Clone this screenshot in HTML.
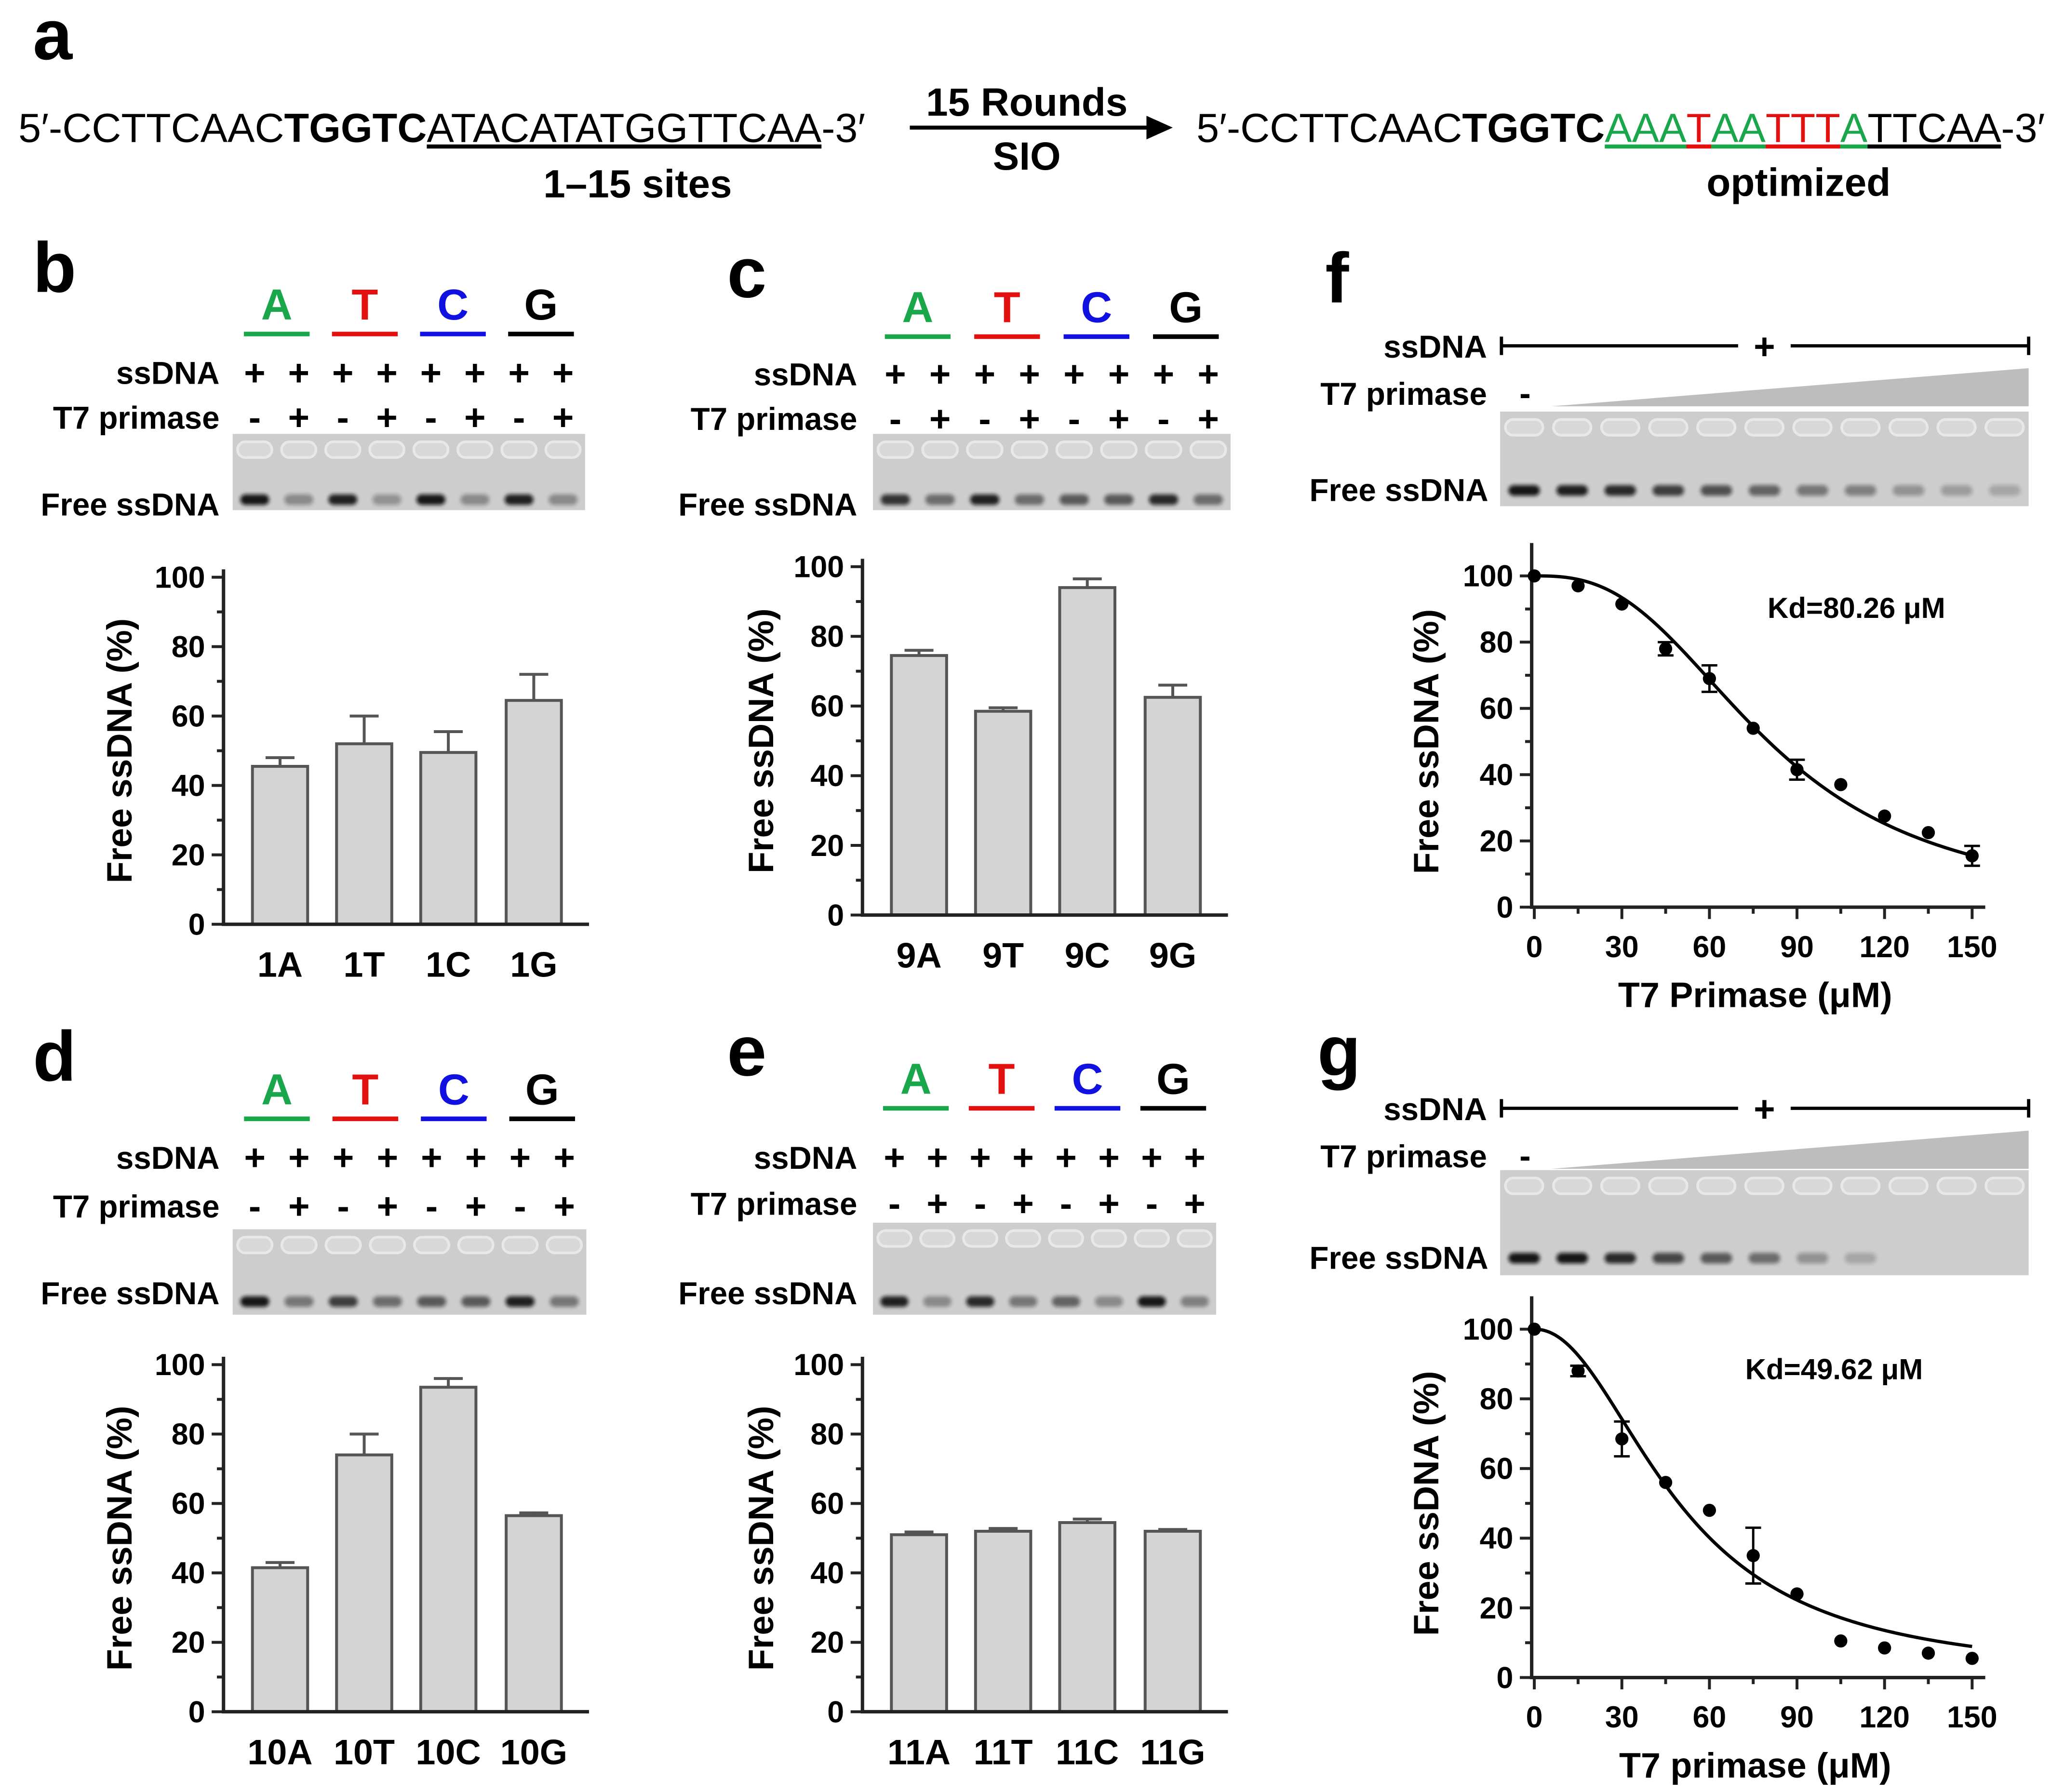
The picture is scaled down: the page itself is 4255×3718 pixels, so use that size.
<!DOCTYPE html>
<html><head><meta charset="utf-8"><style>
html,body{margin:0;padding:0;background:#fff}
svg{display:block}
text{font-family:"Liberation Sans",Arial,sans-serif}
</style></head><body>
<svg id="fig" xmlns="http://www.w3.org/2000/svg" width="4255" height="3718" viewBox="0 0 1560 1363">
<defs>
<filter id="blur2" x="-20%" y="-50%" width="140%" height="200%"><feGaussianBlur stdDeviation="1.5"/></filter>
</defs>
<g>
<text x="25" y="45" font-size="54" font-weight="bold">a</text>
<text x="14" y="108" font-size="31">5′-CCTTCAAC<tspan font-weight="bold">TGGTC</tspan><tspan text-decoration="underline">ATACATATGGTTCAA</tspan>-3′</text>
<text x="485" y="150" font-size="30" font-weight="bold" text-anchor="middle">1–15 sites</text>
<text x="781" y="88" font-size="30" font-weight="bold" text-anchor="middle">15 Rounds</text>
<line x1="692" y1="97" x2="875" y2="97" stroke="#000" stroke-width="3"/>
<polygon points="892,97 872,88 872,106" fill="#000"/>
<text x="781" y="129" font-size="30" font-weight="bold" text-anchor="middle">SIO</text>
<text x="910" y="108" font-size="31">5′-CCTTCAAC<tspan font-weight="bold">TGGTC</tspan><tspan fill="#1aa64a" text-decoration="underline">AAA</tspan><tspan fill="#e31010" text-decoration="underline">T</tspan><tspan fill="#1aa64a" text-decoration="underline">AA</tspan><tspan fill="#e31010" text-decoration="underline">TTT</tspan><tspan fill="#1aa64a" text-decoration="underline">A</tspan><tspan text-decoration="underline">TTCAA</tspan>-3′</text>
<text x="1368" y="149" font-size="30" font-weight="bold" text-anchor="middle">optimized</text>
</g>
<g id="dyn"></g>
</svg>
<script>
// ---- data ----
const bCats=['1A','1T','1C','1G'];
const bVals=[45.5,52,49.5,64.5];
const bErrs=[2.5,8,6,7.5];
const cCats=['9A','9T','9C','9G'];
const cVals=[74.5,58.5,94,62.5];
const cErrs=[1.5,1,2.5,3.5];
const dCats=['10A','10T','10C','10G'];
const dVals=[41.5,74,93.5,56.5];
const dErrs=[1.5,6,2.5,0.8];
const eCats=['11A','11T','11C','11G'];
const eVals=[51,52,54.5,52];
const eErrs=[0.8,0.8,1,0.5];
const yTicks=[0,20,40,60,80,100];
const fX=[0,15,30,45,60,75,90,105,120,135,150];
const fY=[100,97,91.5,78,69,54,41.5,37,27.5,22.5,15.5];
const fErr=[0,0,0,2,4,0,3,0,0,0,3];
const fKd=80.26, fHill=2.7;
const gX=[0,15,30,45,60,75,90,105,120,135,150];
const gY=[100,88,68.5,56,48,35,24,10.5,8.5,7,5.5];
const gErr=[0,1.5,5,0,0,8,0,0,0,0,0];
const gKd=49.62, gHill=2.1;
const xTicks=[0,30,60,90,120,150];
const bases=['A','T','C','G'];
const baseColors=['#1aa64a','#e31010','#1010e0','#000'];
const gelB=[0.95,0.35,0.9,0.3,0.95,0.35,0.9,0.35];
const gelC=[0.8,0.5,0.9,0.5,0.6,0.6,0.85,0.5];
const gelD=[0.95,0.45,0.75,0.5,0.6,0.6,0.9,0.45];
const gelE=[0.9,0.35,0.85,0.45,0.55,0.35,0.95,0.4];
const gelF=[0.95,0.9,0.85,0.75,0.65,0.55,0.45,0.4,0.3,0.25,0.2];
const gelG=[0.95,0.95,0.85,0.7,0.6,0.5,0.3,0.2,0,0,0];

const NS='http://www.w3.org/2000/svg';
const root=document.getElementById('dyn');
function mk(tag,attrs,parent,txt){const e=document.createElementNS(NS,tag);for(const k in attrs)e.setAttribute(k,attrs[k]);if(txt!==undefined)e.textContent=txt;(parent||root).appendChild(e);return e;}

function barPanel(name,ax,y0,y100,cats,vals,errs,centers,titleX){
  const g=mk('g',{});
  
  
  const ys=v=>y0-v/100*(y0-y100);
  for(let i=0;i<cats.length;i++){
    const cx=centers[i],w=42,top=ys(vals[i]);
    const r=mk('rect',{x:cx-w/2,y:top,width:w,height:y0-top,fill:'#d4d4d4',stroke:'#555',"stroke-width":2.2},g);
    
    
    const et=ys(vals[i]+errs[i]);
    const el=mk('path',{d:`M${cx},${top}V${et}M${cx-11},${et}H${cx+11}`,stroke:'#555',"stroke-width":2.2,fill:'none'},g);
    
    
    const t=mk('text',{x:cx,y:y0+40,"font-size":27,"font-weight":"bold","text-anchor":"middle"},g,cats[i]);
    
    
  }
  const axl=mk('path',{d:`M${ax},${y100-6}V${y0}H${ax+278}`,stroke:'#222',"stroke-width":2.6,fill:'none'},g);
  
  
  for(let v=0;v<=100;v+=10){
    const tk=mk('line',{x1:ax-(v%20==0?9:5),x2:ax,y1:ys(v),y2:ys(v),stroke:'#222',"stroke-width":2.2},g);
    
    
  }
  yTicks.forEach(v=>{
    const t=mk('text',{x:ax-14,y:ys(v)+8,"font-size":23,"font-weight":"bold","text-anchor":"end"},g,String(v));
    
    
  });
  const yt=mk('text',{x:titleX,y:(y0+y100)/2,"font-size":27,"font-weight":"bold","text-anchor":"middle",transform:`rotate(-90 ${titleX} ${(y0+y100)/2})`},g,'Free ssDNA (%)');
  
  
}

function gel(name,x,y,w,h,lanes,intens,bandOff){
  const g=mk('g',{});
  
  
  const r=mk('rect',{x:x,y:y,width:w,height:h,fill:'#cdcdcd'},g);
  
  
  const n=lanes.length;
  for(let i=0;i<n;i++){
    const cx=lanes[i];
    const lw=w/n*0.78;
    const well=mk('rect',{x:cx-lw/2,y:y+6,width:lw,height:12,rx:6,fill:'#d8d8d8',stroke:'#e8e8e8',"stroke-width":2},g);
    
    
    if(intens[i]>0){
      const b=mk('rect',{x:cx-lw*0.42,y:y+h-bandOff,width:lw*0.84,height:8,rx:4,fill:'#111',opacity:intens[i],filter:'url(#blur2)'},g);
      
      
    }
  }
}

function gelHeader(name,lanes,letterY,ssY,t7Y,labelRight,freeY){
  const g=mk('g',{});
  
  
  for(let k=0;k<4;k++){
    const cx=(lanes[2*k]+lanes[2*k+1])/2;
    const t=mk('text',{x:cx,y:letterY,"font-size":33,"font-weight":"bold","text-anchor":"middle",fill:baseColors[k]},g,bases[k]);
    
    
    const u=mk('line',{x1:cx-25,x2:cx+25,y1:letterY+11,y2:letterY+11,stroke:baseColors[k],"stroke-width":3.5},g);
    
    
  }
  const s=mk('text',{x:labelRight,y:ssY+9,"font-size":24,"font-weight":"bold","text-anchor":"end"},g,'ssDNA');
  
  
  const p=mk('text',{x:labelRight,y:t7Y+9,"font-size":24,"font-weight":"bold","text-anchor":"end"},g,'T7 primase');
  
  
  const f=mk('text',{x:labelRight,y:freeY+9,"font-size":24,"font-weight":"bold","text-anchor":"end"},g,'Free ssDNA');
  
  
  lanes.forEach((cx,i)=>{
    const a=mk('text',{x:cx,y:ssY+10,"font-size":28,"font-weight":"bold","text-anchor":"middle"},g,'+');
    
    
    const b=mk('text',{x:cx,y:t7Y+10,"font-size":28,"font-weight":"bold","text-anchor":"middle"},g,i%2?'+':'-');
    
    
  });
}

function panelLabel(t,x,y){
  const e=mk('text',{x:x,y:y,"font-size":54,"font-weight":"bold"},root,t);
  
  
}

function lanesFor(x,w,n){const a=[];for(let i=0;i<n;i++)a.push(x+w*(i+0.5)/n);return a;}

panelLabel('b',25,222);
let L=lanesFor(177,268,8);
gelHeader('b',L,243,283,317,167,383);
gel('b',177,330,268,58,L,gelB,12);
barPanel('b',170,703,439,bCats,bVals,bErrs,[213,277,341,406],100);

panelLabel('c',553,226);
L=lanesFor(664,272,8);
gelHeader('c',L,245,284,318,652,383);
gel('c',664,330,272,58,L,gelC,12);
barPanel('c',656,696,431,cCats,cVals,cErrs,[699,763,827,892],588);

panelLabel('d',25,822);
L=lanesFor(177,269,8);
gelHeader('d',L,840,880,917,167,983);
gel('d',177,935,269,65,L,gelD,14);
barPanel('d',170,1302,1038,dCats,dVals,dErrs,[213,277,341,406],100);

panelLabel('e',553,818);
L=lanesFor(664,261,8);
gelHeader('e',L,832,880,915,652,983);
gel('e',664,930,261,70,L,gelE,14);
barPanel('e',656,1302,1038,eCats,eVals,eErrs,[699,763,827,892],588);

function curvePanel(name,yTop,gelY,gelH,ax,y0,y100,xs,ys_,errs,kd,hill,kdText,kdX,kdY,xTitle,bandOff){
  const g=mk('g',{});
  
  
  const ssY=yTop, t7Y=yTop+36;
  const s=mk('text',{x:1131,y:ssY+9,"font-size":24,"font-weight":"bold","text-anchor":"end"},g,'ssDNA');
  
  
  const ln=mk('path',{d:`M1142,${ssY}H1322M1362,${ssY}H1543M1142,${ssY-7}V${ssY+7}M1543,${ssY-7}V${ssY+7}`,stroke:'#000',"stroke-width":2.5,fill:'none'},g);
  
  
  const pl=mk('text',{x:1342,y:ssY+10,"font-size":28,"font-weight":"bold","text-anchor":"middle"},g,'+');
  
  
  const p=mk('text',{x:1131,y:t7Y+9,"font-size":24,"font-weight":"bold","text-anchor":"end"},g,'T7 primase');
  
  
  const m=mk('text',{x:1160,y:t7Y+9,"font-size":26,"font-weight":"bold","text-anchor":"middle"},g,'-');
  
  
  const tri=mk('polygon',{points:`1180,${t7Y+10} 1543,${t7Y-19} 1543,${t7Y+10}`,fill:'#bdbdbd'},g);
  
  
  const L=lanesFor(1141,402,11);
  const f=mk('text',{x:1132,y:gelY+gelH-bandOff+12,"font-size":24,"font-weight":"bold","text-anchor":"end"},g,'Free ssDNA');
  
  
  const xs2=v=>1167+v/150*333, ys=v=>y0-v/100*(y0-y100);
  const axl=mk('path',{d:`M${ax},${y100-25}V${y0}H1510`,stroke:'#222',"stroke-width":2.6,fill:'none'},g);
  
  
  for(let v=0;v<=100;v+=10){
    const tk=mk('line',{x1:ax-(v%20==0?9:5),x2:ax,y1:ys(v),y2:ys(v),stroke:'#222',"stroke-width":2.2},g);
    
    
  }
  yTicks.forEach(v=>{
    const t=mk('text',{x:ax-14,y:ys(v)+8,"font-size":23,"font-weight":"bold","text-anchor":"end"},g,String(v));
    
    
  });
  for(let v=0;v<=150;v+=15){
    const tk=mk('line',{x1:xs2(v),x2:xs2(v),y1:y0,y2:y0+(v%30==0?9:5),stroke:'#222',"stroke-width":2.2},g);
    
    
  }
  xTicks.forEach(v=>{
    const t=mk('text',{x:xs2(v),y:y0+38,"font-size":23,"font-weight":"bold","text-anchor":"middle"},g,String(v));
    
    
  });
  const yt=mk('text',{x:1094,y:(y0+y100)/2,"font-size":27,"font-weight":"bold","text-anchor":"middle",transform:`rotate(-90 1094 ${(y0+y100)/2})`},g,'Free ssDNA (%)');
  
  
  const xt=mk('text',{x:1335,y:y0+76,"font-size":27,"font-weight":"bold","text-anchor":"middle"},g,xTitle);
  
  
  const kt=mk('text',{x:kdX,y:kdY,"font-size":22,"font-weight":"bold","text-anchor":"middle"},g,kdText);
  
  
  let d='';
  for(let i=0;i<=150;i++){const v=100/(1+Math.pow(i/kd,hill));d+=(i?'L':'M')+xs2(i).toFixed(2)+','+ys(v).toFixed(2);}
  const c=mk('path',{d:d,stroke:'#000',"stroke-width":2.5,fill:'none'},g);
  
  
  xs.forEach((x,i)=>{
    if(errs[i]>0){
      const px=xs2(x),a=ys(ys_[i]+errs[i]),b=ys(ys_[i]-errs[i]);
      const e=mk('path',{d:`M${px},${a}V${b}M${px-6},${a}H${px+6}M${px-6},${b}H${px+6}`,stroke:'#000',"stroke-width":1.8,fill:'none'},g);
      
      
    }
    const pt=mk('circle',{cx:xs2(x),cy:ys(ys_[i]),r:5,fill:'#000'},g);
    
    
  });
  return L;
}
panelLabel('f',1008,230);
let LF=curvePanel('f',263,313,72,1165,690,438,fX,fY,fErr,fKd,fHill,'Kd=80.26 μM',1412,470,'T7 Primase (μM)',16);
gel('f',1141,313,402,72,LF,gelF,16);
panelLabel('g',1002,818);
let LG=curvePanel('g',843,890,80,1165,1276,1011,gX,gY,gErr,gKd,gHill,'Kd=49.62 μM',1395,1049,'T7 primase (μM)',17);
gel('g',1141,890,402,80,LG,gelG,17);
</script>
</body></html>
